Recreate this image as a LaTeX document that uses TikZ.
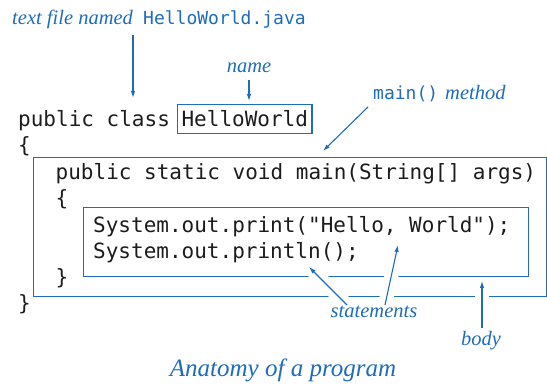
\documentclass[tikz,border=0pt]{standalone}
\usepackage{fontspec}
\setmonofont{DejaVu Sans Mono}
\newfontfamily\notefont{Liberation Serif}
\usetikzlibrary{arrows.meta,calc}
\definecolor{ink}{HTML}{1E6CBA}
\definecolor{codeink}{HTML}{1C1C1C}

\pgfdeclarelayer{frames}
\pgfdeclarelayer{halos}
\pgfsetlayers{frames,halos,main}

\begin{document}
\begin{tikzpicture}[x=1pt,y=-1pt,
  code/.style={font=\fontsize{21}{26}\selectfont\ttfamily, text=codeink, anchor=base west, inner sep=0pt},
  note/.style={font=\fontsize{20.5}{24}\selectfont\notefont\itshape, text=ink, inner sep=0pt, anchor=base west},
  notett/.style={font=\fontsize{18}{22}\selectfont\ttfamily, text=ink, inner sep=0pt, anchor=base west},
  frame/.style={draw=ink, line width=1.2pt, anchor=north west, inner sep=0pt},
  namebox/.style={draw=ink, line width=1.2pt, inner xsep=4pt, inner ysep=6.5pt, text height=16pt, text depth=0pt},
  ptr/.style={draw=ink, line width=1.1pt, -{Latex[length=7pt,width=4.5pt]}},
  halo/.style={draw=white, line width=14pt}]
\useasboundingbox (0,0) rectangle (547,385);

% code lines
\node[code] (l1) at (18,127) {public class};
\node[code,namebox] (cls) at (177,127) {HelloWorld};
\node[code] (l2) at (18,153) {\{};
\node[code] (l3) at (55.5,180) {public static void main(String[] args)};
\node[code] (l4) at (55.5,206) {\{};
\node[code] (l5) at (93,233) {System.out.print("Hello, World");};
\node[code] (l6) at (93,259) {System.out.println();};
\node[code] (l7) at (55.5,285) {\}};
\node[code] (l8) at (18,311) {\}};

% frames around the method and its statements
\begin{pgfonlayer}{frames}
\node[frame, minimum width=513pt, minimum height=139pt] (body) at (33,157) {};
\node[frame, minimum width=445pt, minimum height=69pt] (stmts) at (83,207) {};
\end{pgfonlayer}

% labels
\node[note] (fn) at (12,25) {text file named};
\node[notett] (fnj) at (143,25) {HelloWorld.java};
\node[note,anchor=base] (nm) at (249,73) {name};
\node[notett] (mm) at (373,100) {main()};
\node[note] (mth) at (445,100) {method};
\node[note,anchor=base] (st) at (374,318) {statements};
\node[note,anchor=base] (bd) at (481,345) {body};
\node[note,anchor=base,font=\fontsize{25}{30}\selectfont\notefont\itshape] (cap) at (283,376) {Anatomy of a program};

% arrow ends
\coordinate (t1) at (133,98);
\coordinate (s1) at ($(t1 |- fn.base)+(0,10)$);
\coordinate (t2) at (249,101);
\coordinate (s2) at ($(nm.base)+(0,7)$);
\coordinate (t3) at (323,151);
\coordinate (s3) at ($(mm.base west)+(-5,7)$);
\coordinate (t4) at (309,267);
\coordinate (s4) at ($(st.base)+(-27,-13)$);
\coordinate (t5) at (398,245);
\coordinate (s5) at ($(st.base)+(11,-13)$);
\coordinate (t6) at (482,281);
\coordinate (s6) at ($(bd.base)+(1,-17)$);

% white gaps where pointers cross the frames
\begin{pgfonlayer}{halos}
\draw[halo] (s4) -- (t4);
\draw[halo] (s5) -- (t5);
\draw[halo] (s6) -- (t6);
\end{pgfonlayer}

% pointers
\draw[ptr] (s1) -- (t1);
\draw[ptr] (s2) -- (t2);
\draw[ptr] (s3) -- (t3);
\draw[ptr] (s4) -- (t4);
\draw[ptr] (s5) -- (t5);
\draw[ptr] (s6) -- (t6);
\end{tikzpicture}
\end{document}
